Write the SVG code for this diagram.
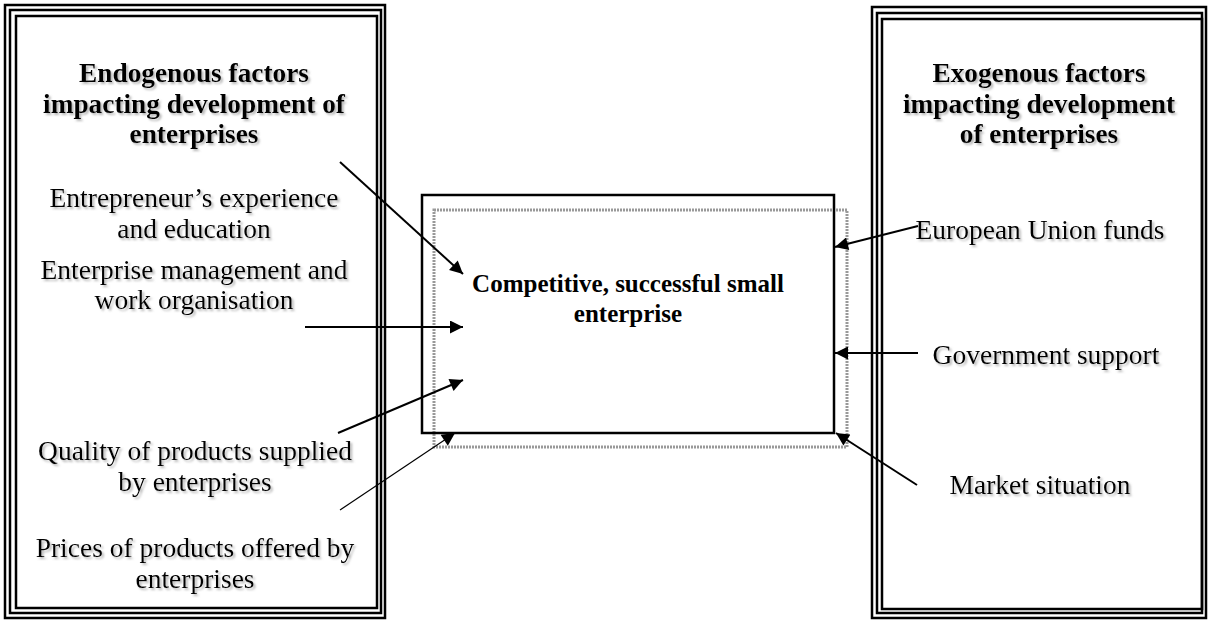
<svg xmlns="http://www.w3.org/2000/svg" width="1210" height="621" viewBox="0 0 1210 621">
<style>
.frame{fill:none;stroke:#000;stroke-width:2.5}
.h{font-family:"Liberation Serif","Times New Roman",serif;font-weight:bold;font-size:27.3px;text-anchor:middle;fill:#000}
.t{font-family:"Liberation Serif","Times New Roman",serif;font-size:27.5px;text-anchor:middle;fill:#000}
.c{font-family:"Liberation Serif","Times New Roman",serif;font-weight:bold;font-size:25px;text-anchor:middle;fill:#000}
.arr{stroke:#000;stroke-width:2;fill:none;marker-end:url(#ah)}
.thin{stroke:#000;stroke-width:1.2;fill:none;marker-end:url(#ah)}
.sh{filter:url(#ds)}
</style>
<defs>
<marker id="ah" viewBox="0 0 10 10" refX="10" refY="5" markerWidth="16" markerHeight="13" markerUnits="userSpaceOnUse" orient="auto">
<path d="M0,0 L10,5 L0,10 Z" fill="#000"/>
</marker>
<filter id="ds" x="-10%" y="-30%" width="130%" height="160%">
<feDropShadow dx="2" dy="2" stdDeviation="1" flood-color="#888" flood-opacity="0.6"/>
</filter>
</defs>

<g id="endogenous">
<rect class="frame" x="5" y="5" width="380" height="613"/>
<rect class="frame" x="10" y="10" width="371" height="603"/>
<rect class="frame" x="16" y="16" width="361" height="592"/>
<g class="sh">
<text class="h" x="194" y="82">Endogenous factors</text>
<text class="h" x="194" y="113">impacting development of</text>
<text class="h" x="194" y="143">enterprises</text>
</g>
</g>

<g id="factor-experience" class="sh">
<text class="t" x="194" y="207">Entrepreneur’s experience</text>
<text class="t" x="194" y="238">and education</text>
</g>
<g id="factor-management" class="sh">
<text class="t" x="194" y="279">Enterprise management and</text>
<text class="t" x="194" y="309">work organisation</text>
</g>
<g id="factor-quality" class="sh">
<text class="t" x="195" y="460">Quality of products supplied</text>
<text class="t" x="195" y="491">by enterprises</text>
</g>
<g id="factor-prices" class="sh">
<text class="t" x="195" y="557">Prices of products offered by</text>
<text class="t" x="195" y="588">enterprises</text>
</g>

<g id="exogenous">
<rect class="frame" x="872" y="7" width="334" height="611"/>
<rect class="frame" x="877" y="13" width="325" height="600"/>
<rect class="frame" x="882" y="19" width="320" height="590"/>
<g class="sh">
<text class="h" x="1039" y="82">Exogenous factors</text>
<text class="h" x="1039" y="113">impacting development</text>
<text class="h" x="1039" y="143">of enterprises</text>
</g>
</g>

<g id="factor-eu" class="sh"><text class="t" x="1040" y="239">European Union funds</text></g>
<g id="factor-gov" class="sh"><text class="t" x="1046" y="364">Government support</text></g>
<g id="factor-market" class="sh"><text class="t" x="1040" y="494">Market situation</text></g>

<g id="enterprise">
<rect x="434" y="210" width="413" height="237" fill="none" stroke="#999" stroke-width="3" stroke-dasharray="2 1"/>
<rect x="422" y="195" width="412" height="238" fill="none" stroke="#000" stroke-width="2.5"/>
<text class="c" x="628" y="292">Competitive, successful small</text>
<text class="c" x="628" y="322">enterprise</text>
</g>

<g id="connectors">
<line class="arr" x1="340" y1="162" x2="463" y2="274"/>
<line class="arr" x1="305" y1="327" x2="463" y2="327"/>
<line class="arr" x1="338" y1="433" x2="463" y2="380"/>
<line class="thin" x1="340" y1="510" x2="455" y2="433"/>
<line class="arr" x1="918" y1="226" x2="835" y2="247"/>
<line class="arr" x1="918" y1="353" x2="835" y2="353"/>
<line class="arr" x1="917" y1="485" x2="836" y2="433"/>
</g>
</svg>
